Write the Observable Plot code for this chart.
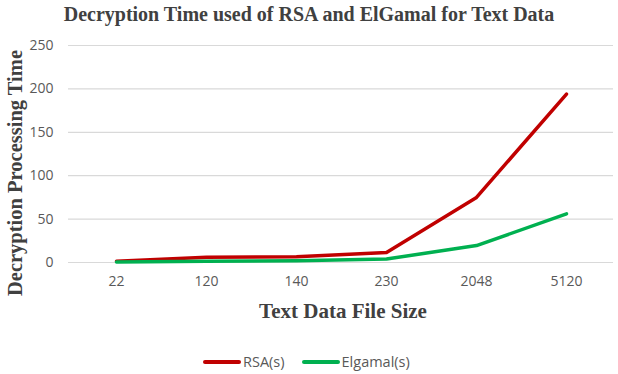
<!DOCTYPE html>
<html>
<head>
<meta charset="utf-8">
<script src="https://cdn.jsdelivr.net/npm/d3@7"></script>
<script src="https://cdn.jsdelivr.net/npm/@observablehq/plot@0.6"></script>
<style>
  html, body { margin: 0; padding: 0; background: #fff; }
  #wrap { position: relative; width: 618px; height: 374px; overflow: hidden; }
  #title { position: absolute; left: 0; width: 618px; top: 3px; text-align: center;
    font: bold 20px "Liberation Serif", "Times New Roman", serif; color: #404040; }
  #legend { position: absolute; left: 203px; top: 352px; display: flex; align-items: center;
    font: 14.5px "Open Sans", "Liberation Sans", sans-serif; color: #595959; }
  .item { display: flex; align-items: center; margin-right: 17px; }
  .swatch { width: 38px; height: 4px; border-radius: 2px; margin-right: 2px; }
</style>
</head>
<body>
<div id="wrap">
  <div id="title"></div>
  <div id="legend"></div>
</div>
<script>
const titleText = "Decryption Time used of RSA and ElGamal for Text Data";
const xTitle = "Text Data File Size";
const yTitle = "Decryption Processing Time";
const sizes = ["22", "120", "140", "230", "2048", "5120"];
const rsa = [1.5, 6, 6.5, 11.5, 75, 194];
const elgamal = [0.5, 1.5, 2, 4, 19.5, 56];
const yTicks = [0, 50, 100, 150, 200, 250];
const seriesNames = ["RSA(s)", "Elgamal(s)"];
const seriesColors = ["#c00000", "#00b050"];

const seriesValues = [rsa, elgamal];
const data = seriesNames.flatMap((name, s) =>
  sizes.map((x, i) => ({series: name, x, y: seriesValues[s][i]})));

const tickFont = '"Open Sans", "Liberation Sans", sans-serif';
const titleFont = '"Liberation Serif", "Times New Roman", serif';

const chart = Plot.plot({
  width: 618,
  height: 374,
  marginTop: 45,
  marginBottom: 112,
  marginLeft: 68,
  marginRight: 5,
  style: {background: "transparent", overflow: "visible"},
  x: {type: "point", domain: sizes, padding: 0.5, axis: null},
  y: {domain: [0, 250], axis: null},
  color: {domain: seriesNames, range: seriesColors},
  marks: [
    Plot.gridY(yTicks, {stroke: "#d9d9d9", strokeOpacity: 1, strokeWidth: 1.2}),
    Plot.axisY(yTicks, {tickSize: 0, tickPadding: 15, label: null, fill: "#595959",
      fontSize: 14, fontFamily: tickFont}),
    Plot.axisX(sizes, {tickSize: 0, tickPadding: 14, label: null, fill: "#595959",
      fontSize: 14, fontFamily: tickFont}),
    Plot.line(data, {x: "x", y: "y", z: "series", stroke: "series", strokeWidth: 3.5,
      strokeLinejoin: "round", strokeLinecap: "round"}),
    Plot.text([yTitle], {frameAnchor: "left", textAnchor: "middle", lineAnchor: "middle",
      rotate: -90, dx: -53, dy: 19,
      fontSize: 20.5, fontWeight: "bold", fontFamily: titleFont, fill: "#404040"}),
    Plot.text([xTitle], {frameAnchor: "bottom", dx: 2, dy: 49, lineAnchor: "middle",
      fontSize: 21, fontWeight: "bold", fontFamily: titleFont, fill: "#404040"})
  ]
});
chart.style.position = "absolute";
chart.style.left = "0";
chart.style.top = "0";
document.getElementById("wrap").prepend(chart);

document.getElementById("title").textContent = titleText;
const legend = document.getElementById("legend");
seriesNames.forEach((name, i) => {
  const item = document.createElement("div");
  item.className = "item";
  const sw = document.createElement("div");
  sw.className = "swatch";
  sw.style.background = seriesColors[i];
  const lab = document.createElement("span");
  lab.textContent = name;
  item.append(sw, lab);
  legend.append(item);
});
</script>
</body>
</html>
